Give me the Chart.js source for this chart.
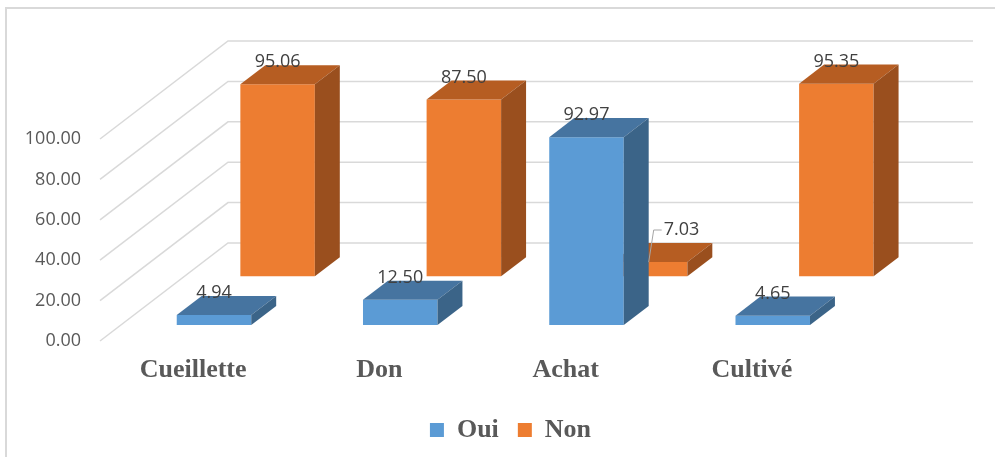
<!DOCTYPE html>
<html>
<head>
<meta charset="utf-8">
<script src="https://cdn.jsdelivr.net/npm/chart.js@4.4.1/dist/chart.umd.min.js"></script>
<style>
html, body { margin: 0; padding: 0; background: #fff; }
canvas { display: block; }
</style>
</head>
<body>
<canvas id="chart" width="995" height="457"></canvas>
<script>
// DATA

const categories = ['Cueillette', 'Don', 'Achat', 'Cultivé'];
const ouiValues = [4.94, 12.50, 92.97, 4.65];
const nonValues = [95.06, 87.50, 7.03, 95.35];
const yTicks = [0, 20, 40, 60, 80, 100];


// FAKE 3D (excel style column chart)

const DEPTH_X = 128;      // floor depth, front edge -> back wall
const DEPTH_Y = -98;
const BAR_DEPTH = 0.195;  // part of the floor depth one bar takes
const GRID = '#d9d9d9';
const LABEL_FONT = '18px "Open Sans"';

function rowShift(ds) {
    return { x: DEPTH_X * ds.row, y: DEPTH_Y * ds.row };
}

function barBox(chart, dsIndex, i) {
    const ds = chart.data.datasets[dsIndex];
    const p = chart.getDatasetMeta(dsIndex).data[i].getProps(['x', 'y', 'base', 'width']);
    const s = rowShift(ds);
    return {
        x: p.x + s.x, top: p.y + s.y, base: p.base + s.y,
        left: p.x - p.width / 2 + s.x, right: p.x + p.width / 2 + s.x
    };
}

const fake3d = {
    id: 'fake3d',
    beforeDraw(chart) {
        const ctx = chart.ctx;
        ctx.save();
        ctx.fillStyle = '#fff';
        ctx.fillRect(0, 0, chart.width, chart.height);
        ctx.strokeStyle = GRID;
        ctx.lineWidth = 2;
        ctx.beginPath();
        ctx.moveTo(6, chart.height);
        ctx.lineTo(6, 8);
        ctx.lineTo(chart.width, 8);
        ctx.stroke();
        ctx.restore();
    },
    beforeDatasetsDraw(chart) {
        const ctx = chart.ctx, area = chart.chartArea, y = chart.scales.y;
        ctx.save();
        ctx.strokeStyle = GRID;
        ctx.lineWidth = 1.5;
        y.ticks.forEach(t => {
            const py = y.getPixelForValue(t.value);
            ctx.beginPath();
            ctx.moveTo(area.left, py);
            ctx.lineTo(area.left + DEPTH_X, py + DEPTH_Y);
            ctx.lineTo(area.right + DEPTH_X, py + DEPTH_Y);
            ctx.stroke();
        });
        ctx.restore();
    },
    beforeDatasetDraw(chart, args) {
        const s = rowShift(chart.data.datasets[args.index]);
        chart.ctx.save();
        chart.ctx.translate(s.x, s.y);
    },
    afterDatasetDraw(chart, args) {
        const ctx = chart.ctx;
        const ds = chart.data.datasets[args.index];
        const dx = DEPTH_X * BAR_DEPTH, dy = DEPTH_Y * BAR_DEPTH;
        args.meta.data.forEach(bar => {
            const p = bar.getProps(['x', 'y', 'base', 'width']);
            const l = p.x - p.width / 2, r = p.x + p.width / 2;
            // top
            ctx.fillStyle = ds.topColor;
            ctx.beginPath();
            ctx.moveTo(l, p.y);
            ctx.lineTo(r, p.y);
            ctx.lineTo(r + dx, p.y + dy);
            ctx.lineTo(l + dx, p.y + dy);
            ctx.closePath();
            ctx.fill();
            // side
            ctx.fillStyle = ds.sideColor;
            ctx.beginPath();
            ctx.moveTo(r, p.y);
            ctx.lineTo(r + dx, p.y + dy);
            ctx.lineTo(r + dx, p.base + dy);
            ctx.lineTo(r, p.base);
            ctx.closePath();
            ctx.fill();
        });
        ctx.restore();
    },
    afterDatasetsDraw(chart) {
        const ctx = chart.ctx;
        const dx = DEPTH_X * BAR_DEPTH, dy = DEPTH_Y * BAR_DEPTH;
        ctx.save();
        ctx.font = LABEL_FONT;
        ctx.fillStyle = '#404040';
        ctx.textBaseline = 'middle';
        chart.data.datasets.forEach((ds, d) => {
            ds.data.forEach((v, i) => {
                const txt = v.toFixed(2);
                const half = ctx.measureText(txt).width / 2;
                const b = barBox(chart, d, i);
                const lx = b.x, ly = b.top + dy - 3;
                // is the label hidden by a bar of a front row ?
                let hider = null;
                for (let f = 0; f < d; f++) {
                    const o = barBox(chart, f, i);
                    if (lx + half > o.left && lx - half < o.right + dx && ly > o.top + dy && ly < o.base) hider = o;
                }
                if (!hider) {
                    ctx.textAlign = 'center';
                    ctx.fillText(txt, lx, ly);
                    return;
                }
                const sx = hider.right + dx, cy = b.top + dy - 13;
                ctx.strokeStyle = '#a6a6a6';
                ctx.lineWidth = 1;
                ctx.beginPath();
                ctx.moveTo(sx, b.top);
                ctx.lineTo(sx + 5, cy);
                ctx.lineTo(sx + 13, cy);
                ctx.stroke();
                ctx.textAlign = 'left';
                ctx.fillText(txt, sx + 15, cy);
            });
        });
        ctx.restore();
    }
};


// CHART

const ctx = document.getElementById('chart');

new Chart(ctx, {
    type: 'bar',
    data: {
        labels: categories,
        datasets: [{
            label: 'Oui',
            data: ouiValues,
            backgroundColor: '#5b9bd5',
            topColor: '#4674a0',
            sideColor: '#3b6488',
            row: 0.163
        }, {
            label: 'Non',
            data: nonValues,
            backgroundColor: '#ed7d31',
            topColor: '#b65d22',
            sideColor: '#9a4f1e',
            row: 0.66
        }]
    },
    options: {
        responsive: false,
        animation: false,
        devicePixelRatio: 1,
        layout: { padding: { left: 26, top: 139, right: 0, bottom: 4 } },
        datasets: {
            bar: {
                grouped: false,
                barPercentage: 0.4,
                categoryPercentage: 1,
                borderWidth: 0,
                clip: false,
                yAxisID: 'y'
            }
        },
        scales: {
            x: {
                grid: { display: false, drawTicks: false },
                border: { display: false },
                afterFit: s => { s.height = 57; },
                ticks: {
                    padding: 14,
                    color: '#595959',
                    font: { family: '"Liberation Serif", "Times New Roman", serif', size: 26, weight: 'bold' }
                }
            },
            y: {
                min: 0,
                max: 100,
                afterBuildTicks: s => { s.ticks = yTicks.map(v => ({ value: v })); },
                afterFit: s => { s.width = 74; },
                grid: { display: false, drawTicks: false },
                border: { display: false },
                ticks: {
                    padding: 19,
                    color: '#595959',
                    font: { family: '"Open Sans"', size: 18 },
                    callback: v => v.toFixed(2)
                }
            },
            y2: {
                position: 'right',
                afterFit: s => { s.width = 150; },
                grid: { display: false, drawTicks: false },
                border: { display: false },
                ticks: { display: false }
            }
        },
        plugins: {
            tooltip: { enabled: false },
            legend: {
                position: 'bottom',
                labels: {
                    boxWidth: 14,
                    boxHeight: 14,
                    padding: 19,
                    color: '#595959',
                    font: { family: '"Liberation Serif", "Times New Roman", serif', size: 26, weight: 'bold' }
                }
            }
        }
    },
    plugins: [fake3d]
});
</script>
</body>
</html>
